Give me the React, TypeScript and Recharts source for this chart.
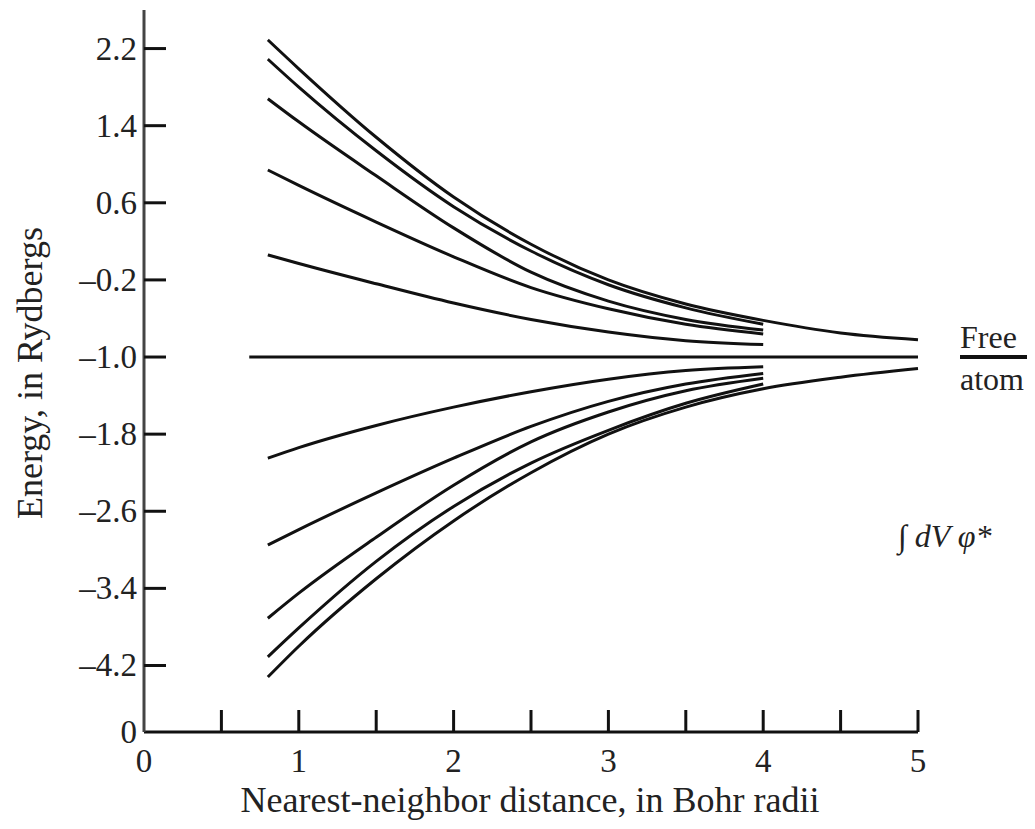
import React from 'react';
import { LineChart, Line, XAxis, YAxis } from 'recharts';

// nearest-neighbor distance (Bohr radii) where the curves are sampled
const distance = [0.68, 0.8, 1, 1.5, 2, 2.5, 3, 3.5, 4, 4.5, 5];

// upper branch, Rydbergs
const upper1 = [null, 2.29, 1.99, 1.28, 0.66, 0.17, -0.2, -0.45, -0.62, -0.75, -0.82];
const upper2 = [null, 2.09, 1.8, 1.14, 0.56, 0.1, -0.25, -0.49, -0.66, null, null];
const upper3 = [null, 1.68, 1.44, 0.88, 0.34, -0.12, -0.42, -0.61, -0.72, null, null];
const upper4 = [null, 0.94, 0.78, 0.4, 0.04, -0.28, -0.5, -0.66, -0.76, null, null];
const upper5 = [null, 0.06, -0.03, -0.24, -0.44, -0.61, -0.74, -0.83, -0.87, null, null];

// free atom level
const freeAtom = [-1.0, -1.0, -1.0, -1.0, -1.0, -1.0, -1.0, -1.0, -1.0, -1.0, -1.0];

// lower branch
const lower1 = [null, -2.05, -1.94, -1.71, -1.52, -1.36, -1.23, -1.14, -1.1, null, null];
const lower2 = [null, -2.95, -2.79, -2.41, -2.05, -1.72, -1.46, -1.28, -1.17, null, null];
const lower3 = [null, -3.71, -3.45, -2.87, -2.33, -1.88, -1.57, -1.35, -1.22, null, null];
const lower4 = [null, -4.11, -3.81, -3.12, -2.55, -2.1, -1.76, -1.48, -1.28, null, null];
const lower5 = [null, -4.32, -4.0, -3.3, -2.7, -2.2, -1.8, -1.52, -1.33, -1.21, -1.12];

const energyTicks = [-4.89, -4.2, -3.4, -2.6, -1.8, -1.0, -0.2, 0.6, 1.4, 2.2];
const energyLabels = ['0', '–4.2', '–3.4', '–2.6', '–1.8', '–1.0', '–0.2', '0.6', '1.4', '2.2'];
const distanceTicks = [0, 0.5, 1, 1.5, 2, 2.5, 3, 3.5, 4, 4.5, 5];

const seriesKeys = ['u1', 'u2', 'u3', 'u4', 'u5', 'free', 'l1', 'l2', 'l3', 'l4', 'l5'];
const seriesValues = [upper1, upper2, upper3, upper4, upper5, freeAtom, lower1, lower2, lower3, lower4, lower5];

const data = distance.map((d, i) => {
  const row: Record<string, number | null> = { d };
  seriesKeys.forEach((k, s) => {
    row[k] = seriesValues[s][i];
  });
  return row;
});

const FONT = '"Liberation Serif", "Times New Roman", serif';
const INK = '#111';

const EnergyTick = (props: any) => {
  const { x, y, payload } = props;
  const idx = energyTicks.indexOf(payload.value);
  return (
    <g>
      {idx > 0 && <line x1={x + 7} x2={x + 29} y1={y} y2={y} stroke={INK} strokeWidth={3} />}
      <text x={x} y={y} textAnchor="end" dominantBaseline="central" fontFamily={FONT} fontSize={33} fill="#222">
        {energyLabels[idx]}
      </text>
    </g>
  );
};

const DistanceTick = (props: any) => {
  const { x, y, payload } = props;
  const v = payload.value;
  return (
    <g>
      {v > 0 && <line x1={x} x2={x} y1={y} y2={y - 22} stroke={INK} strokeWidth={3} />}
      {Number.isInteger(v) && (
        <text x={x} y={y + 40} textAnchor="middle" fontFamily={FONT} fontSize={33} fill="#222">
          {v}
        </text>
      )}
    </g>
  );
};

const App: React.FC = () => {
  return (
    <div style={{ position: 'relative', width: 1027, height: 813 }}>
      <LineChart width={1027} height={813} data={data} margin={{ top: 2, right: 117, left: 0, bottom: 0 }}>
        <XAxis
          dataKey="d"
          type="number"
          domain={[0, 5]}
          ticks={distanceTicks}
          interval={0}
          tickSize={0}
          tickMargin={0}
          tickLine={false}
          tick={<DistanceTick />}
          axisLine={{ stroke: INK, strokeWidth: 3 }}
          height={89}
        />
        <YAxis
          type="number"
          domain={[-4.89, 2.6]}
          ticks={energyTicks}
          interval={0}
          tickSize={0}
          tickMargin={7}
          tickLine={false}
          tick={<EnergyTick />}
          axisLine={{ stroke: '#444', strokeWidth: 3 }}
          width={136}
          allowDataOverflow
        />
        {seriesKeys.map(k => (
          <Line
            key={k}
            dataKey={k}
            type="monotone"
            stroke={INK}
            strokeWidth={3}
            dot={false}
            connectNulls={k === 'free'}
            isAnimationActive={false}
          />
        ))}
      </LineChart>
      <svg
        width={1027}
        height={813}
        style={{ position: 'absolute', left: 0, top: 0, pointerEvents: 'none' }}
      >
        <text
          x={22}
          y={365}
          transform="rotate(-90 22 365)"
          textAnchor="middle"
          dominantBaseline="central"
          fontFamily={FONT}
          fontSize={36}
          fill="#222"
        >
          Energy, in Rydbergs
        </text>
        <text x={522} y={792} textAnchor="middle" dominantBaseline="central" fontFamily={FONT} fontSize={36} fill="#222">
          Nearest-neighbor distance, in Bohr radii
        </text>
        <text x={952} y={340} fontFamily={FONT} fontSize={32} fill="#222">Free</text>
        <line x1={952} x2={1027} y1={349} y2={349} stroke={INK} strokeWidth={4} />
        <text x={952} y={382} fontFamily={FONT} fontSize={32} fill="#222">atom</text>
        <text x={890} y={539} fontFamily={FONT} fontSize={32} fontStyle="italic" fill="#222">∫ dV φ*</text>
      </svg>
    </div>
  );
};

export default App;
